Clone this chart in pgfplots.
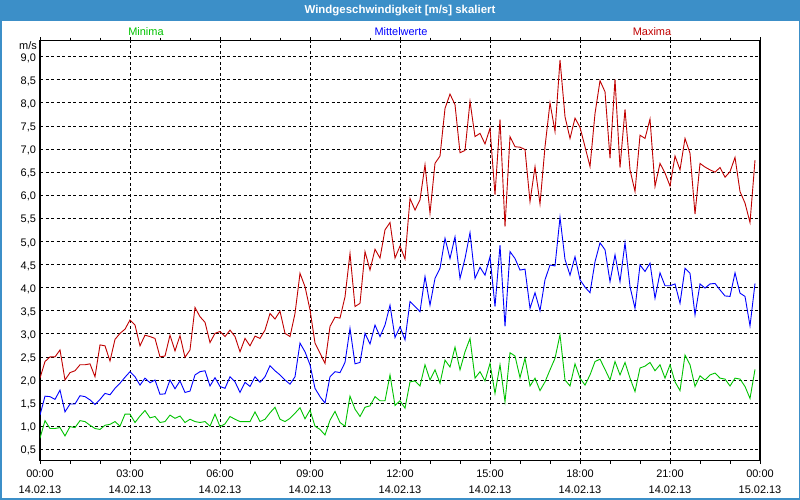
\documentclass[border=0pt]{standalone}
\usepackage{fontspec}
\setmainfont{Liberation Sans}
\usepackage{pgfplots}
\usepackage{pgfplotstable}
\pgfplotsset{compat=1.18}
\definecolor{titleblue}{RGB}{60,143,200}
\definecolor{minG}{RGB}{0,195,0}
\definecolor{meanB}{RGB}{0,0,255}
\definecolor{maxR}{RGB}{192,0,0}

\pgfplotstableread{
i mn mean mx
0 0.74 1.24 2.04
1 1.12 1.65 2.40
2 0.95 1.64 2.50
3 0.95 1.58 2.50
4 0.97 1.78 2.65
5 0.79 1.31 2.00
6 0.99 1.48 2.16
7 0.97 1.48 2.20
8 1.12 1.66 2.33
9 1.10 1.64 2.33
10 1.02 1.57 2.35
11 0.95 1.47 2.07
12 0.93 1.58 2.76
13 1.02 1.71 2.74
14 1.04 1.68 2.41
15 1.10 1.82 2.88
16 1.00 1.93 3.01
17 1.26 2.06 3.10
18 1.26 2.18 3.30
19 1.08 2.07 3.19
20 1.22 1.89 2.74
21 1.34 2.04 2.97
22 1.18 1.94 2.94
23 1.21 2.00 2.90
24 1.08 1.69 2.50
25 1.10 1.70 2.52
26 1.24 2.00 2.97
27 1.17 1.81 2.63
28 1.22 1.98 2.96
29 1.08 1.73 2.49
30 1.15 1.76 2.65
31 1.10 2.11 3.57
32 1.08 2.18 3.37
33 1.10 2.20 3.25
34 1.00 1.87 2.81
35 1.26 2.05 3.01
36 0.99 1.86 3.05
37 1.05 1.82 2.94
38 1.21 2.07 3.08
39 1.15 1.96 2.94
40 1.10 1.73 2.61
41 1.10 1.95 2.90
42 1.10 1.86 2.74
43 1.31 2.07 2.95
44 1.10 1.95 2.90
45 1.15 2.07 3.08
46 1.29 2.31 3.44
47 1.41 2.20 3.32
48 1.15 2.11 3.49
49 1.10 2.00 3.01
50 1.17 1.91 2.94
51 1.28 2.07 3.44
52 1.40 2.80 4.31
53 1.16 2.61 4.02
54 1.35 2.33 3.52
55 1.00 1.82 2.80
56 0.93 1.64 2.58
57 0.81 1.50 2.36
58 1.13 2.07 3.16
59 1.32 2.18 3.36
60 1.08 2.16 3.34
61 1.00 2.38 3.80
62 1.65 3.12 4.74
63 1.37 2.35 3.59
64 1.21 2.38 3.66
65 1.41 3.01 4.78
66 1.44 2.78 4.38
67 1.64 3.19 4.83
68 1.55 2.94 4.64
69 1.55 3.19 5.25
70 2.11 3.62 5.41
71 1.45 2.92 4.64
72 1.55 3.15 4.90
73 1.39 2.87 4.62
74 1.96 3.70 5.93
75 1.98 3.59 5.68
76 1.87 3.48 5.90
77 2.33 4.24 6.66
78 2.00 3.62 5.61
79 2.22 4.20 6.69
80 1.93 4.42 6.85
81 2.43 5.07 7.88
82 2.28 4.63 8.19
83 2.71 5.10 7.96
84 2.22 4.20 6.92
85 2.61 4.63 6.97
86 2.90 5.19 8.03
87 2.04 4.20 7.27
88 2.18 4.44 7.34
89 1.98 4.27 7.11
90 2.36 4.67 7.45
91 1.71 3.59 6.01
92 2.33 4.92 7.64
93 1.53 3.16 5.32
94 2.59 4.78 7.27
95 2.52 4.63 7.05
96 2.05 4.38 7.04
97 2.47 4.40 6.99
98 1.87 3.55 5.86
99 2.04 3.89 6.62
100 1.77 3.50 5.81
101 1.96 4.17 7.05
102 2.22 4.49 8.00
103 2.47 4.47 7.38
104 2.98 5.52 8.93
105 2.00 4.61 7.70
106 1.87 4.27 7.23
107 2.35 4.67 7.67
108 2.04 4.17 7.47
109 1.89 4.01 7.05
110 2.11 3.89 6.62
111 2.40 4.56 7.77
112 2.45 4.97 8.48
113 2.23 4.82 8.24
114 2.00 4.13 6.80
115 2.40 4.71 8.51
116 2.11 4.13 6.60
117 2.38 4.97 7.86
118 2.04 4.02 6.55
119 1.75 3.55 6.08
120 2.26 4.49 7.30
121 2.30 4.35 7.23
122 2.38 4.53 7.65
123 2.20 3.77 6.19
124 2.33 4.32 6.69
125 2.04 4.04 6.48
126 2.33 4.04 6.20
127 1.96 4.08 6.85
128 1.77 3.66 6.55
129 2.54 4.42 7.23
130 2.33 4.31 6.91
131 1.86 3.41 5.59
132 2.09 4.08 6.69
133 2.00 3.99 6.61
134 2.11 4.08 6.55
135 2.15 4.09 6.50
136 2.04 3.95 6.60
137 2.02 3.82 6.39
138 1.87 3.81 6.51
139 2.04 4.32 6.82
140 2.02 3.88 6.08
141 1.86 3.81 5.83
142 1.60 3.17 5.41
143 2.23 4.09 6.76
}\wind

\begin{document}
\begin{tikzpicture}[x=1bp,y=1bp]
\useasboundingbox (0,0) rectangle (800,500);
\fill[white] (0,0) rectangle (800,500);
\fill[titleblue] (0,479.3) rectangle (800,500);
\draw[titleblue, line width=3bp] (0,0) rectangle (800,500);
\node[white, font=\bfseries\fontsize{11.5}{13}\selectfont] at (400,489.5) {Windgeschwindigkeit [m/s] skaliert};
\node[minG, font=\fontsize{11}{12}\selectfont] at (146,468) {Minima};
\node[meanB, font=\fontsize{11}{12}\selectfont] at (401,468) {Mittelwerte};
\node[maxR, font=\fontsize{11}{12}\selectfont] at (652,468) {Maxima};
\node[anchor=east, inner sep=0pt, font=\fontsize{11}{12}\selectfont] at (37,454) {m/s};
\begin{axis}[
  at={(40bp,39.3bp)}, anchor=south west,
  scale only axis, width=720bp, height=420bp,
  xmin=0, xmax=144, ymin=0.253, ymax=9.346,
  xtick={0,18,...,144},
  minor xtick={6,12,24,30,42,48,60,66,78,84,96,102,114,120,132,138},
  xticklabels={{00:00\\14.02.13},{03:00\\14.02.13},{06:00\\14.02.13},{09:00\\14.02.13},{12:00\\14.02.13},{15:00\\14.02.13},{18:00\\14.02.13},{21:00\\14.02.13},{00:00\\15.02.13}},
  ytick={0.5,1,...,9.01},
  xtick align=outside,
  major tick length=3.5bp, minor tick length=3bp,
  ytick style={draw=none},
  xtick style={black, line width=0.8bp},
  grid=major,
  major grid style={black, line width=0.8bp, dash pattern=on 3bp off 2.5bp},
  axis line style={black, line width=1.1bp},
  /pgf/number format/.cd, fixed, fixed zerofill, precision=1, use comma, assume math mode=true,
  /pgfplots/.cd,
  yticklabel style={font=\fontsize{11}{12}\selectfont, anchor=east, xshift=-0.5bp, yshift=-1.5bp},
  xticklabel style={font=\fontsize{11}{16}\selectfont, align=center, yshift=-2bp},
]
\addplot[maxR, line width=0.9bp] table[x=i, y=mx] {\wind};
\addplot[meanB, line width=0.9bp] table[x=i, y=mean] {\wind};
\addplot[minG, line width=0.9bp] table[x=i, y=mn] {\wind};
\end{axis}
\end{tikzpicture}
\end{document}
